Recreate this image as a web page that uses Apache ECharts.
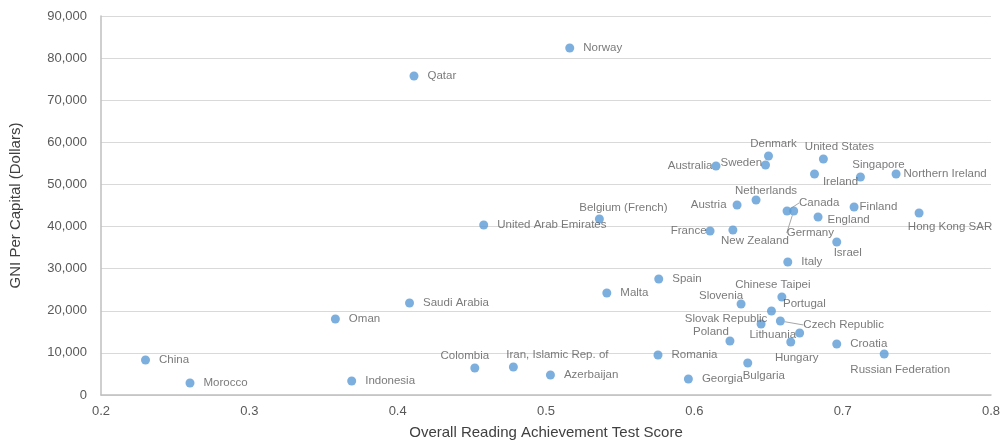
<!DOCTYPE html>
<html lang="en">
<head>
    <meta charset="UTF-8">
    <title>GNI vs Reading Score</title>
    <script src="https://cdn.jsdelivr.net/npm/echarts@6/dist/echarts.min.js"></script>
    <style>
        body { margin: 0; background: #fff; }
    </style>
</head>
<body>
    <div id="main" style="width: 1003px;height:440px;"></div>
    <script type="text/javascript">
        // data
        const countries = ['Norway', 'Qatar', 'China', 'Morocco', 'Oman', 'Saudi Arabia', 'Indonesia',
            'United Arab Emirates', 'Colombia', 'Iran, Islamic Rep. of', 'Azerbaijan', 'Belgium (French)',
            'Romania', 'Spain', 'Malta', 'Georgia', 'Bulgaria', 'Poland', 'Slovak Republic', 'Slovenia',
            'Chinese Taipei', 'Portugal', 'Czech Republic', 'Lithuania', 'Hungary', 'Croatia',
            'Russian Federation', 'Italy', 'Israel', 'Denmark', 'Sweden', 'Australia', 'United States',
            'Ireland', 'Singapore', 'Northern Ireland', 'Netherlands', 'Austria', 'Canada', 'Germany',
            'England', 'Finland', 'Hong Kong SAR', 'France', 'New Zealand'];
        const scores = [0.516, 0.411, 0.230, 0.260, 0.358, 0.408, 0.369,
            0.458, 0.452, 0.478, 0.503, 0.536,
            0.5755, 0.576, 0.541, 0.596, 0.636, 0.624, 0.645, 0.6315,
            0.659, 0.652, 0.658, 0.671, 0.665, 0.696,
            0.728, 0.663, 0.696, 0.650, 0.648, 0.6146, 0.687,
            0.681, 0.712, 0.736, 0.6416, 0.6288, 0.6625, 0.667,
            0.6834, 0.7077, 0.7515, 0.6106, 0.626];
        const gni = [82400, 75760, 8310, 2850, 18050, 21850, 3330,
            40380, 6410, 6650, 4750, 41800,
            9500, 27550, 24230, 3800, 7600, 12830, 16860, 21610,
            23280, 19950, 17580, 14730, 12590, 12110,
            9740, 31590, 36340, 56760, 54630, 54390, 56050,
            52490, 51780, 52490, 46310, 45130, 43700, 43700,
            42280, 44650, 43230, 38950, 39190];

        // label placement: [position, dx, dy] (style only, everything else sits on the right)
        const labelPlace = {
            'Colombia': ['top', -10, 0],
            'Iran, Islamic Rep. of': ['top', 44, 0],
            'Belgium (French)': ['top', 24, 1],
            'Bulgaria': ['bottom', 16, 0],
            'Poland': ['top', -19, 3],
            'Slovak Republic': ['top', -35, 7],
            'Slovenia': ['top', -20, 4],
            'Chinese Taipei': ['top', -9, 0],
            'Portugal': ['right', -2, -7],
            'Lithuania': ['left', 0, 2],
            'Hungary': ['bottom', 6, 3],
            'Russian Federation': ['bottom', 16, 3],
            'Israel': ['bottom', 11, -2],
            'Denmark': ['top', 5, 0],
            'Sweden': ['left', 0, -2],
            'Australia': ['left', 0, 0],
            'United States': ['top', 16, 0],
            'Ireland': ['bottom', 26, -5],
            'Singapore': ['top', 18, 0],
            'Northern Ireland': ['right', -6, 0],
            'Netherlands': ['top', 10, 3],
            'Austria': ['left', -7, 0],
            'England': ['right', -4, 3],
            'Finland': ['right', -8, 0],
            'Hong Kong SAR': ['bottom', 31, 1],
            'France': ['left', 0, 0],
            'New Zealand': ['bottom', 22, -2]
        };
        const distByPos = { right: 9, left: -1, top: 2, bottom: 2 };
        // labels pulled away with a leader line: [dx, dy] from the dot centre
        const leaders = {
            'Canada': [12, -8],
            'Germany': [-7, 22],
            'Czech Republic': [23, 4]
        };

        const seriesData = countries.map((name, i) => {
            const item = { name: name, value: [scores[i], gni[i]] };
            if (leaders[name]) {
                item.label = { position: 'inside', align: 'left' };
                item.labelLine = { show: true };
            } else if (labelPlace[name]) {
                const p = labelPlace[name];
                item.label = { position: p[0], distance: distByPos[p[0]] };
            }
            return item;
        });

        let options = {
            animation: false,
            textStyle: { fontFamily: 'Liberation Sans, Arial, sans-serif' },
            grid: { left: 101, right: 12, top: 16, bottom: 45, outerBoundsMode: 'none' },
            xAxis: {
                type: 'value',
                min: 0.2,
                max: 0.8,
                interval: 0.1,
                name: 'Overall Reading Achievement Test Score',
                nameLocation: 'middle',
                nameGap: 30,
                nameTextStyle: { color: '#404040', fontSize: 15 },
                axisLine: { show: true, lineStyle: { color: '#BFBFBF', width: 1.5 } },
                axisTick: { show: false },
                splitLine: { show: false },
                axisLabel: {
                    color: '#595959', fontSize: 13, margin: 10,
                    formatter: v => (Math.round(v * 10) / 10).toString()
                }
            },
            yAxis: {
                type: 'value',
                min: 0,
                max: 90000,
                interval: 10000,
                name: 'GNI Per Capital (Dollars)',
                nameLocation: 'middle',
                nameGap: 78,
                nameTextStyle: { color: '#404040', fontSize: 15 },
                axisLine: { show: true, lineStyle: { color: '#BFBFBF', width: 1.5 } },
                axisTick: { show: false },
                splitLine: { lineStyle: { color: '#D9D9D9', width: 1 } },
                axisLabel: {
                    color: '#595959', fontSize: 13, margin: 14,
                    formatter: v => v.toLocaleString('en-US')
                }
            },
            series: [{
                type: 'scatter',
                symbolSize: 9,
                itemStyle: { color: '#5B9BD5' },
                data: seriesData,
                label: {
                    show: true,
                    position: 'right',
                    distance: 9,
                    color: '#595959',
                    fontSize: 11.5,
                    formatter: p => p.name
                },
                labelLine: { show: false, lineStyle: { color: '#A6A6A6', width: 1 } },
                labelLayout: function (p) {
                    const name = countries[p.dataIndex];
                    const d = leaders[name];
                    if (d) return { dx: d[0], dy: d[1] };
                    const lp = labelPlace[name];
                    if (lp) return { dx: lp[1], dy: lp[2] };
                    return {};
                }
            }]
        };

        let myChart = echarts.init(document.getElementById('main'));
        myChart.setOption(options);
    </script>
</body>
</html>
